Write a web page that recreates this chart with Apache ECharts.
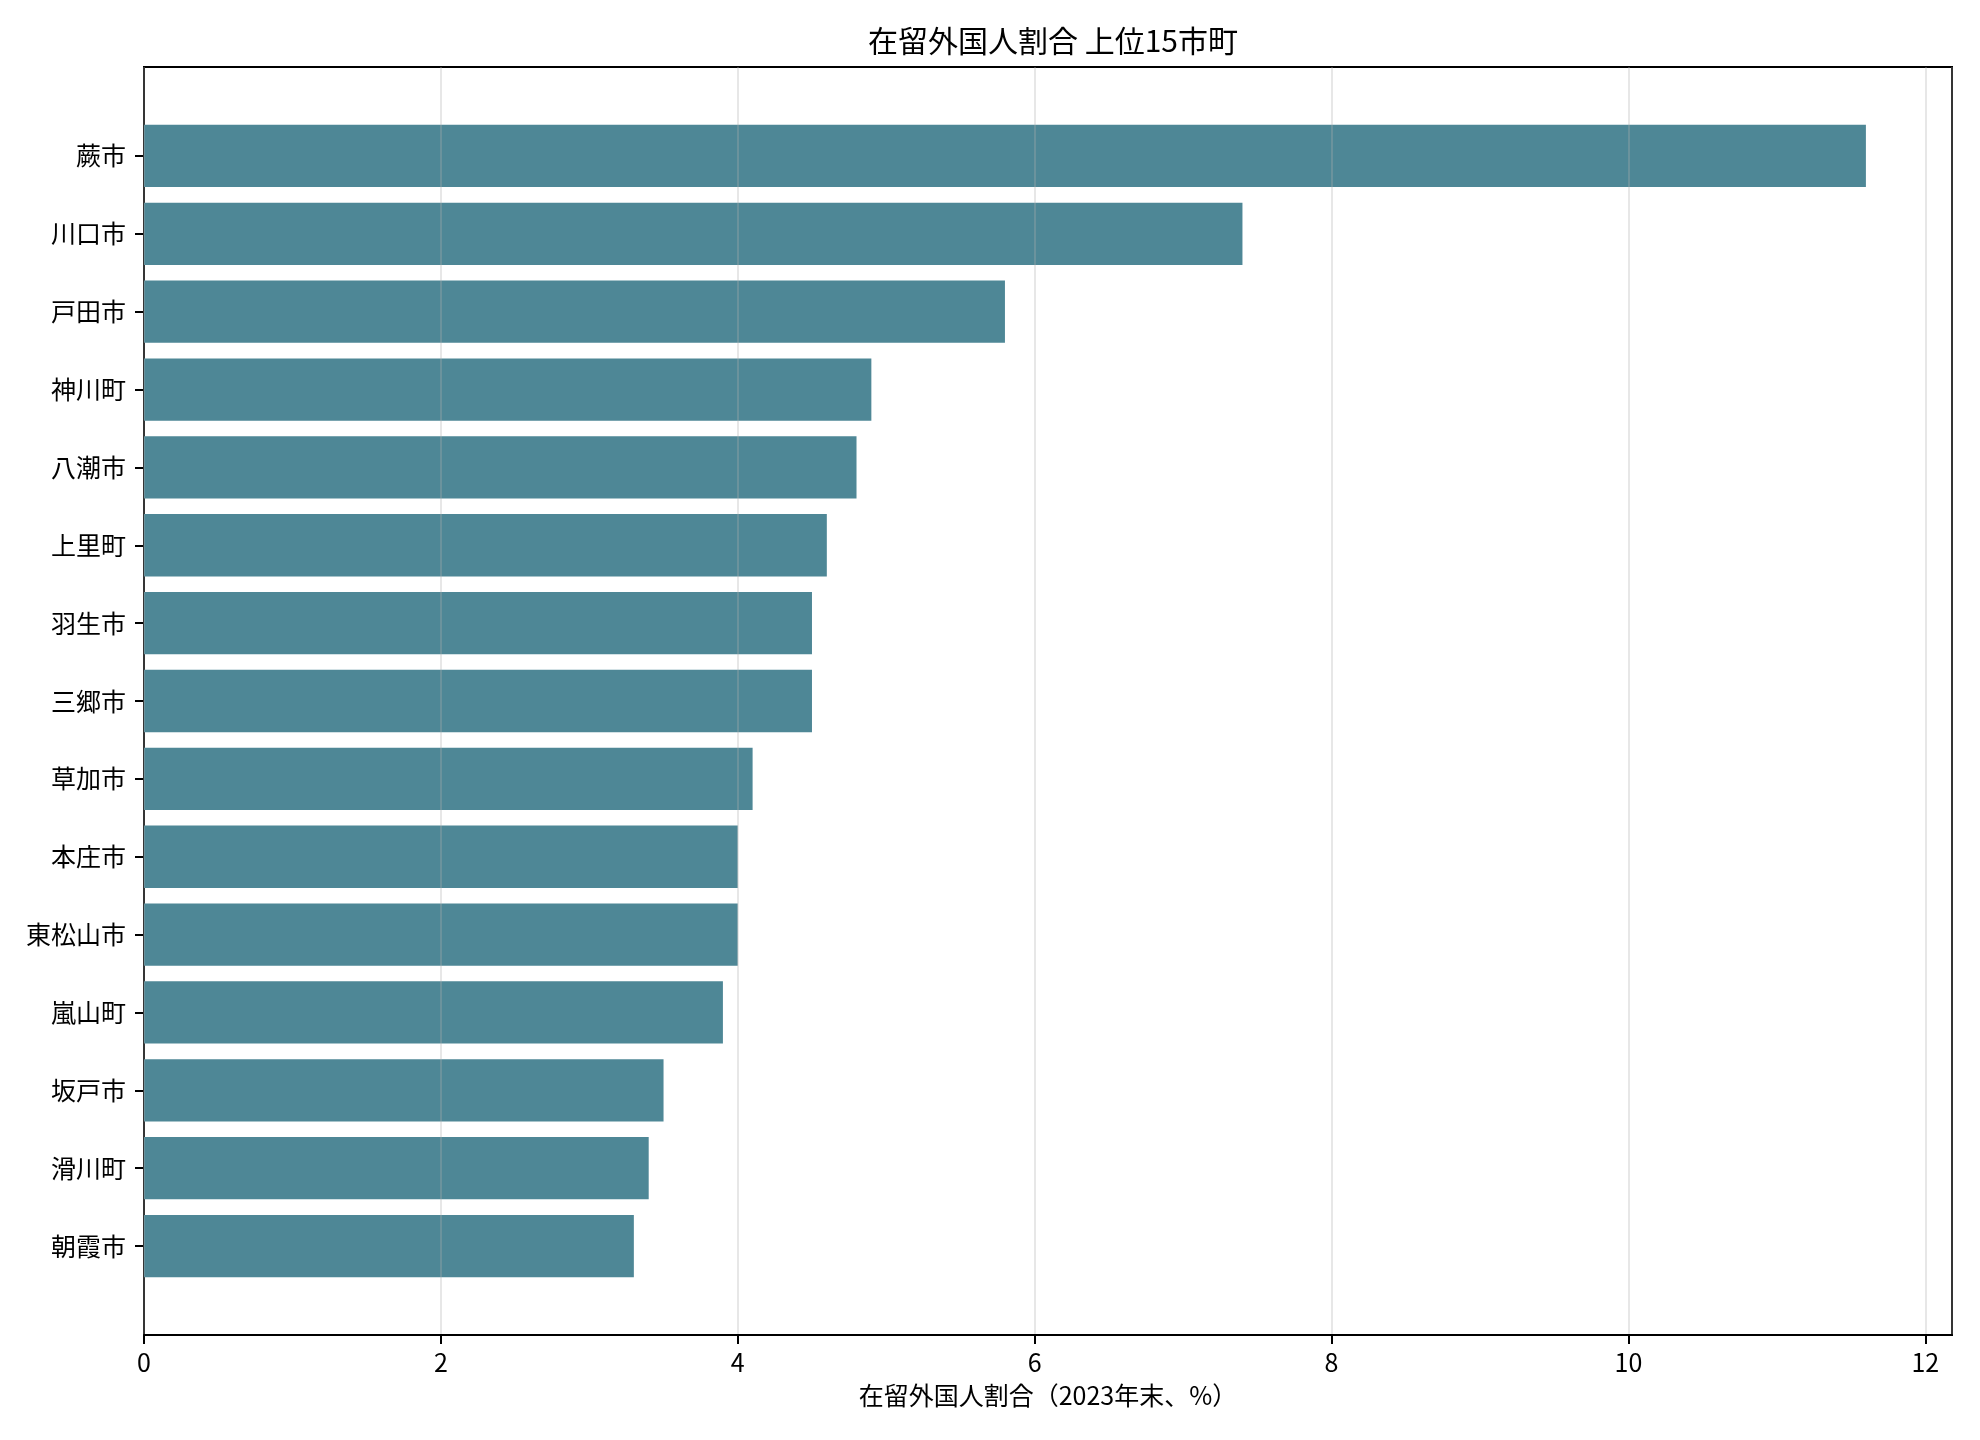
<!DOCTYPE html>
<html lang="ja">
<head>
    <meta charset="UTF-8">
    <title>在留外国人割合 上位15市町</title>
    <script src="https://cdn.jsdelivr.net/npm/echarts@6/dist/echarts.min.js"></script>
    <style>
        html, body { margin: 0; padding: 0; background: #ffffff; }
        #main { width: 1980px; height: 1440px; }
    </style>
</head>
<body>
<div id="main"></div>
<script type="text/javascript">
    // 市町名（上から順）
    var cities = ['蕨市', '川口市', '戸田市', '神川町', '八潮市', '上里町', '羽生市', '三郷市',
        '草加市', '本庄市', '東松山市', '嵐山町', '坂戸市', '滑川町', '朝霞市'];
    // 在留外国人割合（%）
    var ratios = [11.6, 7.4, 5.8, 4.9, 4.8, 4.6, 4.5, 4.5, 4.1, 4.0, 4.0, 3.9, 3.5, 3.4, 3.3];
    // x軸の目盛
    var xTicks = [0, 2, 4, 6, 8, 10, 12];
    var xMax = 12.18;

    var font = '"Noto Sans CJK JP", "Noto Sans", sans-serif';
    var myChart = echarts.init(document.getElementById('main'));

    myChart.setOption({
        backgroundColor: '#ffffff',
        animation: false,
        title: {
            text: '在留外国人割合 上位15市町',
            left: 1048,
            top: 21,
            textAlign: 'center',
            textStyle: {fontFamily: font, fontSize: 30, fontWeight: 'normal', color: '#000'}
        },
        grid: [
            // 枠とx軸
            {left: 144, right: 28, top: 67, bottom: 105, show: true, borderColor: '#000', borderWidth: 2, backgroundColor: 'transparent'},
            // 棒の領域（上下に余白）
            {left: 144, right: 28, top: 117, bottom: 155}
        ],
        xAxis: [
            {
                gridIndex: 0,
                type: 'value',
                min: 0,
                max: xMax,
                interval: 2,
                z: 5,
                name: '在留外国人割合（2023年末、%）',
                nameLocation: 'middle',
                nameGap: 48,
                nameTextStyle: {fontFamily: font, fontSize: 25, color: '#000'},
                axisLine: {show: true, lineStyle: {color: '#000', width: 2}},
                axisTick: {show: true, length: 9, lineStyle: {color: '#000', width: 2}},
                axisLabel: {
                    margin: 15, fontFamily: font, fontSize: 25, color: '#000',
                    showMaxLabel: false,
                    formatter: function (v) { return xTicks.indexOf(v) >= 0 ? String(v) : ''; }
                },
                splitLine: {show: true, lineStyle: {color: 'rgba(176,176,176,0.3)', width: 2}}
            },
            {
                gridIndex: 1,
                type: 'value',
                min: 0,
                max: xMax,
                show: false
            }
        ],
        yAxis: [
            {gridIndex: 0, type: 'value', min: 0, max: 1, show: false},
            {
                gridIndex: 1,
                type: 'category',
                inverse: true,
                data: cities,
                axisLine: {show: false},
                axisTick: {show: true, alignWithLabel: true, length: 9, lineStyle: {color: '#000', width: 2}},
                axisLabel: {margin: 18, fontFamily: font, fontSize: 25, color: '#000'},
                splitLine: {show: false}
            }
        ],
        series: [
            {
                type: 'bar',
                xAxisIndex: 1,
                yAxisIndex: 1,
                data: ratios,
                barWidth: '80%',
                itemStyle: {color: '#4e8796'}
            }
        ]
    });
</script>
</body>
</html>
